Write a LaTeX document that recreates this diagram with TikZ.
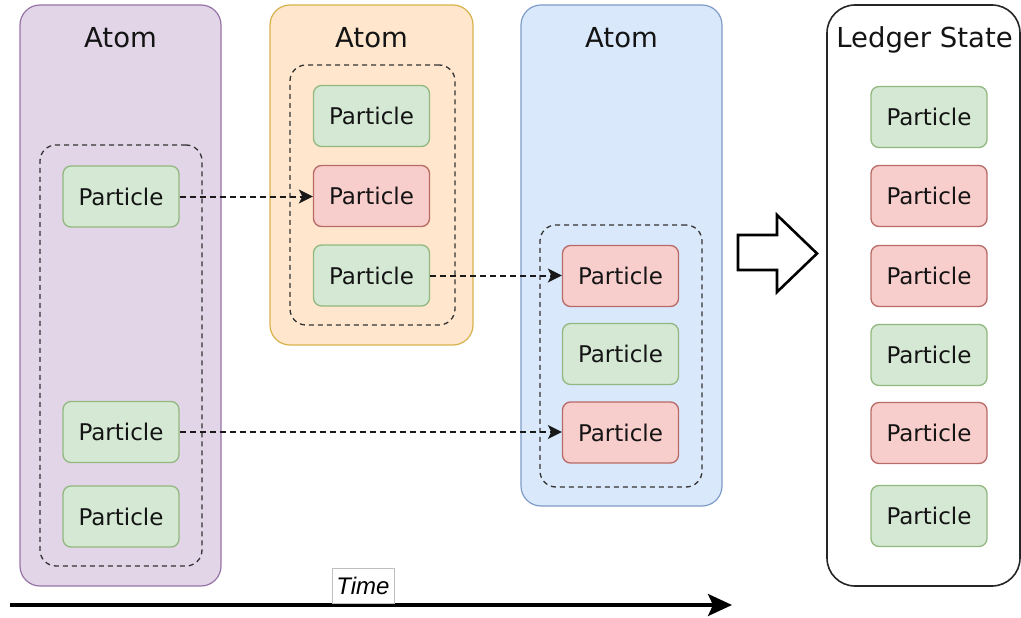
\documentclass[tikz,border=0pt]{standalone}
\usepackage{fontspec}
\setmainfont{DejaVu Sans}
\newfontfamily\labelfont{Liberation Sans}
\usetikzlibrary{arrows.meta}

\definecolor{atompurple}{HTML}{E1D5E7}
\definecolor{atompurpleline}{HTML}{9673A6}
\definecolor{atomorange}{HTML}{FFE6CC}
\definecolor{atomorangeline}{HTML}{D7B24A}
\definecolor{atomblue}{HTML}{DAE8FC}
\definecolor{atomblueline}{HTML}{7E9CC8}
\definecolor{upfill}{HTML}{D5E8D4}
\definecolor{upline}{HTML}{92B87F}
\definecolor{downfill}{HTML}{F8CECC}
\definecolor{downline}{HTML}{B86A66}
\definecolor{inktext}{HTML}{141414}

\begin{document}
\begin{tikzpicture}[x=1pt,y=-1pt,
  box/.style={rectangle, rounded corners=20pt, line width=1.2pt, inner sep=0pt},
  group/.style={rectangle, draw=black!80, line width=1.3pt, dash pattern=on 5pt off 4pt,
    rounded corners=16pt, inner sep=0pt},
  particle/.style={rectangle, rounded corners=8pt, minimum width=116pt, minimum height=61pt,
    line width=1.3pt, inner sep=0pt, text=inktext, font=\fontsize{23}{27}\selectfont},
  upp/.style={particle, fill=upfill, draw=upline},
  downp/.style={particle, fill=downfill, draw=downline},
  title/.style={anchor=base, text=inktext, font=\fontsize{27.5}{32}\selectfont},
  link/.style={line width=2pt, dash pattern=on 6pt off 4pt, draw=black!90,
    -{Stealth[length=14pt,width=14pt,inset=3.5pt]}},
]
\useasboundingbox (0,0) rectangle (1021,618);

% atoms
\node[box, fill=atompurple, draw=atompurpleline, minimum width=201pt, minimum height=581pt] (a1) at (120.5,295.5) {};
\node[box, fill=atomorange, draw=atomorangeline, minimum width=203pt, minimum height=340pt] (a2) at (371.5,175) {};
\node[box, fill=atomblue, draw=atomblueline, minimum width=201pt, minimum height=501pt] (a3) at (621.5,255.5) {};
\node[box, fill=white, draw=black!85, line width=1.6pt, rounded corners=28pt, minimum width=193pt, minimum height=581pt] (ledger) at (923.5,295.5) {};

\node[title] (t1) at (120.5,48) {Atom};
\node[title] (t2) at (371.5,48) {Atom};
\node[title] (t3) at (621.5,48) {Atom};
\node[title] (t4) at (924.5,48) {Ledger State};

% dashed particle groups
\node[group, minimum width=162pt, minimum height=421pt] (g1) at (121,355.5) {};
\node[group, minimum width=165pt, minimum height=260pt] (g2) at (372.5,195) {};
\node[group, minimum width=162pt, minimum height=262pt] (g3) at (621,356) {};

% particles of the first atom
\node[upp] (p11) at (121,196.5) {Particle};
\node[upp] (p12) at (121,432) {Particle};
\node[upp] (p13) at (121,516.5) {Particle};

% particles of the second atom
\node[upp] (p21) at (371.5,116) {Particle};
\node[downp] (p22) at (371.5,196) {Particle};
\node[upp] (p23) at (371.5,275.5) {Particle};

% particles of the third atom
\node[downp] (p31) at (620.5,276) {Particle};
\node[upp] (p32) at (620.5,354) {Particle};
\node[downp] (p33) at (620.5,432.5) {Particle};

% resulting ledger state
\node[upp] (l1) at (929,117) {Particle};
\node[downp] (l2) at (929,196) {Particle};
\node[downp] (l3) at (929,276) {Particle};
\node[upp] (l4) at (929,355) {Particle};
\node[downp] (l5) at (929,433) {Particle};
\node[upp] (l6) at (929,516) {Particle};

% spending links
\draw[link] (p11.east) -- (p11.east -| p22.west);
\draw[link] (p23.east) -- (p23.east -| p31.west);
\draw[link] (p12.east) -- (p12.east -| p33.west);

% block arrow towards the ledger state
\draw[line width=2.6pt, line join=miter, fill=white]
  (738,235) -- (777,235) -- (777,215) -- (817,253.5) -- (777,292) -- (777,270) -- (738,270) -- cycle;

% time axis
\coordinate (tstart) at (10,605);
\coordinate (tend) at (732,605);
\draw[line width=3.2pt, -{Stealth[length=24pt,width=22pt,inset=5pt]}] (tstart) -- (tend);
\node[draw=black!25, fill=white, line width=0.8pt, minimum width=62pt, minimum height=35pt, inner sep=0pt,
  font=\labelfont\itshape\fontsize{24}{28}\selectfont] (time) at (363,585.5) {Time};
\end{tikzpicture}
\end{document}
